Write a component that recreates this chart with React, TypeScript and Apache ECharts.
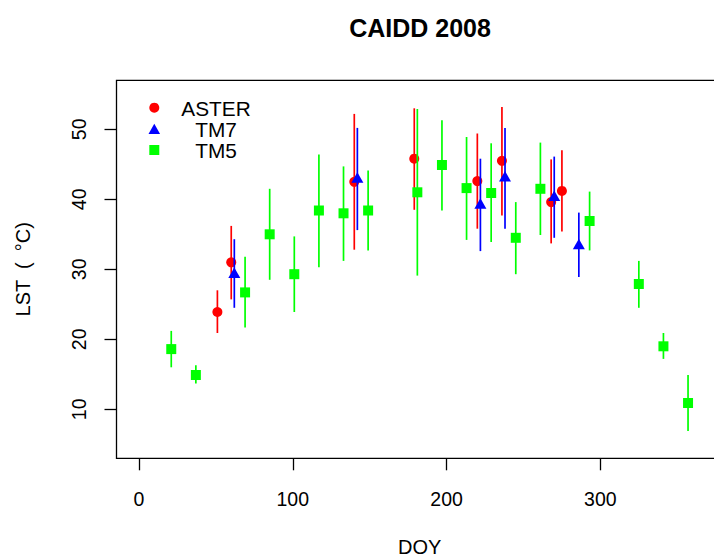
import React, { useEffect, useRef } from "react";
import * as echarts from "echarts";

const chartTitle = "CAIDD 2008";
const xName = "DOY";
const yName = "LST \u00A0( \u00A0\u00B0C)";
const xTicks = [0, 100, 200, 300];
const yTicks = [10, 20, 30, 40, 50];
const legendNames = ["ASTER", "TM7", "TM5"];

const asterDoy = [51, 60, 140, 179, 220, 236, 268, 275];
const asterLst = [23.9, 31.0, 42.5, 45.8, 42.6, 45.5, 39.6, 41.2];
const asterLo = [20.9, 25.7, 32.8, 38.5, 35.8, 37.7, 33.7, 35.4];
const asterHi = [27.0, 36.2, 52.2, 53.0, 49.4, 53.2, 45.7, 47.0];

const tm7Doy = [62, 142, 222, 238, 270, 286];
const tm7Lst = [29.5, 43.1, 39.4, 43.3, 40.5, 33.6];
const tm7Lo = [24.5, 35.6, 32.6, 35.8, 34.5, 28.9];
const tm7Hi = [34.3, 50.2, 45.8, 50.2, 46.1, 38.1];

const tm5Doy = [21, 37, 69, 85, 101, 117, 133, 149, 181, 197, 213, 229, 245, 261, 293, 325, 341, 357];
const tm5Lst = [18.6, 14.9, 26.7, 35.0, 29.3, 38.4, 38.0, 38.4, 41.0, 44.9, 41.6, 40.9, 34.5, 41.5, 36.9, 27.9, 19.0, 10.9];
const tm5Lo = [16.0, 13.7, 21.7, 28.5, 23.9, 30.3, 31.2, 32.7, 29.1, 38.4, 34.2, 33.9, 29.3, 34.9, 32.7, 24.5, 17.2, 6.9];
const tm5Hi = [21.2, 16.3, 31.8, 41.5, 34.7, 46.4, 44.7, 44.1, 52.9, 51.3, 48.9, 48.0, 39.6, 48.1, 41.1, 31.2, 20.9, 14.9];

const FONT = '"Liberation Sans", Arial, Helvetica, sans-serif';
const RED = "#ff0000";
const BLUE = "#0000ff";
const GREEN = "#00ff00";

function errData(doy: number[], lo: number[], hi: number[]) {
  return doy.map((d, i) => [d, lo[i], hi[i]]);
}
function ptData(doy: number[], v: number[]) {
  return doy.map((d, i) => [d, v[i]]);
}
function errSeries(name: string, data: number[][], color: string, z: number) {
  return {
    type: "custom",
    name,
    data,
    z,
    silent: true,
    encode: { x: 0, y: [1, 2] },
    renderItem: (_p: any, api: any) => {
      const x = api.value(0);
      const a = api.coord([x, api.value(1)]);
      const b = api.coord([x, api.value(2)]);
      return {
        type: "line",
        shape: { x1: a[0], y1: a[1], x2: b[0], y2: b[1] },
        style: { stroke: color, lineWidth: 1.7 },
      };
    },
  };
}

export default function App() {
  const ref = useRef<HTMLDivElement>(null);
  useEffect(() => {
    if (!ref.current) return;
    const chart = echarts.init(ref.current, null, { renderer: "svg" });
    const legendText = (t: string, y: number) => ({
      type: "text",
      x: 216,
      y,
      style: {
        text: t,
        font: `20.8px ${FONT}`,
        fill: "#000",
        align: "center",
        verticalAlign: "middle",
        textAlign: "center",
        textVerticalAlign: "middle",
      },
    });
    chart.setOption({
      animation: false,
      backgroundColor: "#ffffff",
      grid: {
        left: 116.5,
        top: 80.3,
        width: 606.3,
        height: 378,
        show: true,
        borderColor: "#000",
        borderWidth: 1.3,
        backgroundColor: "transparent",
        containLabel: false,
        outerBoundsMode: "none",
      },
      xAxis: {
        type: "value",
        min: -14.6,
        max: 379.6,
        splitLine: { show: false },
        axisLine: { show: false, onZero: false },
        axisTick: { show: true, inside: false, length: 12, customValues: xTicks, lineStyle: { color: "#000", width: 1.3 } },
        axisLabel: { customValues: xTicks, margin: 31, fontSize: 19.5, color: "#000", fontFamily: FONT },
        name: xName,
        nameLocation: "middle",
        nameGap: 78.7,
        nameTextStyle: { fontSize: 20, color: "#000", fontFamily: FONT },
      },
      yAxis: {
        type: "value",
        min: 3,
        max: 57,
        splitLine: { show: false },
        axisLine: { show: false, onZero: false },
        axisTick: { show: true, inside: false, length: 12, customValues: yTicks, lineStyle: { color: "#000", width: 1.3 } },
        axisLabel: { customValues: yTicks, rotate: 90, margin: 27.5, fontSize: 19.5, color: "#000", fontFamily: FONT },
        name: yName,
        nameLocation: "middle",
        nameRotate: 90,
        nameGap: 83.5,
        nameTextStyle: { fontSize: 20, color: "#000", fontFamily: FONT },
      },
      series: [
        errSeries("ASTER range", errData(asterDoy, asterLo, asterHi), RED, 2),
        {
          type: "scatter",
          name: legendNames[0],
          data: ptData(asterDoy, asterLst),
          symbol: "circle",
          symbolSize: 10,
          itemStyle: { color: RED, opacity: 1 },
          z: 3,
        },
        errSeries("TM7 range", errData(tm7Doy, tm7Lo, tm7Hi), BLUE, 4),
        {
          type: "scatter",
          name: legendNames[1],
          data: ptData(tm7Doy, tm7Lst),
          symbol: "triangle",
          symbolSize: [12, 10.5],
          itemStyle: { color: BLUE, opacity: 1 },
          z: 5,
        },
        errSeries("TM5 range", errData(tm5Doy, tm5Lo, tm5Hi), GREEN, 6),
        {
          type: "scatter",
          name: legendNames[2],
          data: ptData(tm5Doy, tm5Lst),
          symbol: "rect",
          symbolSize: 10,
          itemStyle: { color: GREEN, opacity: 1 },
          z: 7,
        },
      ],
      graphic: [
        {
          type: "text",
          x: 420,
          y: 28,
          style: {
            text: chartTitle,
            font: `bold 25px ${FONT}`,
            fill: "#000",
            align: "center",
            verticalAlign: "middle",
            textAlign: "center",
            textVerticalAlign: "middle",
          },
        },
        { type: "circle", shape: { cx: 154.3, cy: 107.7, r: 5 }, style: { fill: RED } },
        {
          type: "polygon",
          shape: { points: [[154.3, 123.8], [160.1, 134], [148.5, 134]] },
          style: { fill: BLUE },
        },
        { type: "rect", shape: { x: 149.3, y: 145, width: 10, height: 10 }, style: { fill: GREEN } },
        legendText(legendNames[0], 108),
        legendText(legendNames[1], 129.5),
        legendText(legendNames[2], 150.5),
      ],
    });
    return () => chart.dispose();
  }, []);
  return (
    <div
      ref={ref}
      style={{ position: "fixed", left: 0, top: 0, width: 714, height: 557, background: "#fff" }}
    />
  );
}
